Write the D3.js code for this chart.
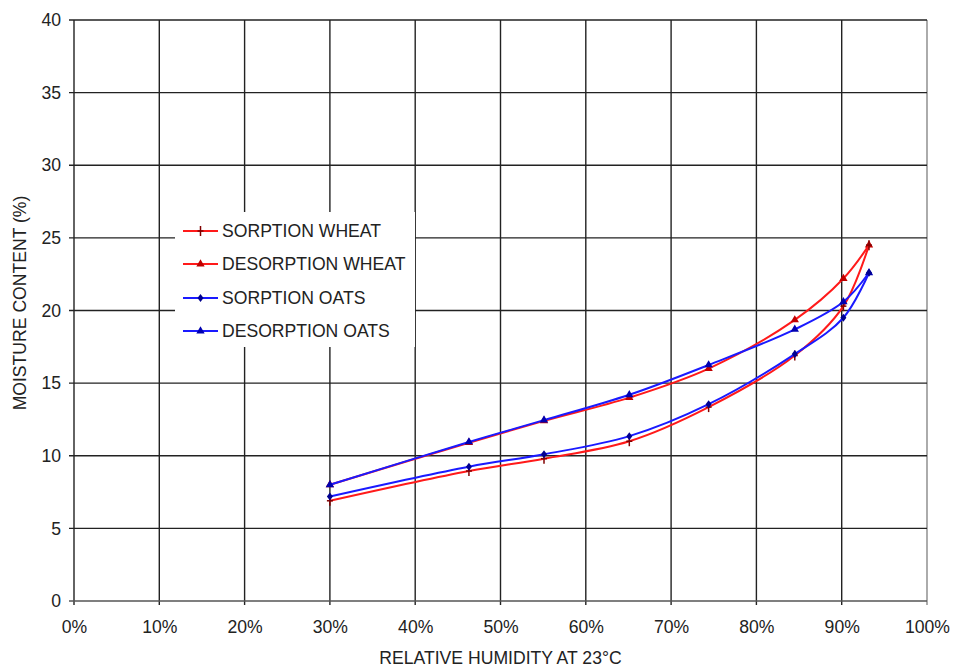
<!DOCTYPE html>
<html>
<head>
<meta charset="utf-8">
<script src="https://cdn.jsdelivr.net/npm/d3@7"></script>
<style>
  html, body { margin: 0; padding: 0; background: #fff; }
  svg { display: block; font-family: "Liberation Sans", Arial, sans-serif; }
</style>
</head>
<body>
<svg id="chart" width="956" height="669"></svg>
<script>
// ---- data ----
const rhSorptionWheat   = [0.30, 0.463, 0.551, 0.651, 0.744, 0.845, 0.902, 0.932];
const mcSorptionWheat   = [6.9, 8.95, 9.8, 11.0, 13.35, 16.9, 20.3, 24.5];
const rhDesorptionWheat = [0.30, 0.463, 0.551, 0.651, 0.744, 0.845, 0.902, 0.932];
const mcDesorptionWheat = [8.0, 10.9, 12.4, 14.0, 16.0, 19.35, 22.2, 24.5];
const rhSorptionOats    = [0.30, 0.463, 0.551, 0.651, 0.744, 0.845, 0.902, 0.932];
const mcSorptionOats    = [7.2, 9.25, 10.1, 11.35, 13.55, 17.0, 19.5, 22.6];
const rhDesorptionOats  = [0.30, 0.463, 0.551, 0.651, 0.744, 0.845, 0.902, 0.932];
const mcDesorptionOats  = [8.0, 10.95, 12.45, 14.2, 16.25, 18.7, 20.6, 22.6];
const seriesNames = ["SORPTION WHEAT", "DESORPTION WHEAT", "SORPTION OATS", "DESORPTION OATS"];
const xTicks = [0, 0.1, 0.2, 0.3, 0.4, 0.5, 0.6, 0.7, 0.8, 0.9, 1.0];
const yTicks = [0, 5, 10, 15, 20, 25, 30, 35, 40];
const xTitle = "RELATIVE HUMIDITY AT 23°C";
const yTitle = "MOISTURE CONTENT (%)";

// ---- layout ----
const svg = d3.select("#chart");
const L = 74, R = 927, T = 20, B = 601;
const FS = 17.6;
const x = d3.scaleLinear().domain([0, 1]).range([L, R]);
const y = d3.scaleLinear().domain([0, 40]).range([B, T]);

svg.append("rect").attr("width", 956).attr("height", 669).attr("fill", "#fff");

// grid
const grid = svg.append("g");
grid.selectAll("line.v").data(xTicks).join("line")
  .attr("x1", d => x(d)).attr("x2", d => x(d))
  .attr("y1", T).attr("y2", B + 4)
  .attr("stroke", d => d === 1 ? "#888" : "#222").attr("stroke-width", 1.4);
grid.selectAll("line.h").data(yTicks).join("line")
  .attr("x1", L - 5).attr("x2", R)
  .attr("y1", d => y(d)).attr("y2", d => y(d))
  .attr("stroke", d => d === 0 ? "#555" : "#222").attr("stroke-width", 1.4);

// axes labels via d3 axes (ticks hidden, gridlines drawn above)
const xAxis = svg.append("g").attr("transform", `translate(0,${B})`)
  .call(d3.axisBottom(x).tickValues(xTicks).tickFormat(d3.format(".0%")).tickSize(0).tickPadding(20));
xAxis.select(".domain").remove();
xAxis.selectAll("text").attr("font-size", FS).attr("fill", "#222")
  .attr("font-family", '"Liberation Sans", Arial, sans-serif');

const yAxis = svg.append("g").attr("transform", `translate(${L},0)`)
  .call(d3.axisLeft(y).tickValues(yTicks).tickSize(0).tickPadding(13));
yAxis.select(".domain").remove();
yAxis.selectAll("text").attr("font-size", FS).attr("fill", "#222")
  .attr("font-family", '"Liberation Sans", Arial, sans-serif');

// titles
svg.append("text").attr("x", (L + R) / 2).attr("y", 664)
  .attr("text-anchor", "middle").attr("font-size", FS).attr("fill", "#222").text(xTitle);
svg.append("text").attr("transform", "translate(26,303) rotate(-90)")
  .attr("text-anchor", "middle").attr("font-size", FS).attr("fill", "#222").text(yTitle);

// series
const series = [
  { name: seriesNames[1], rh: rhDesorptionWheat, mc: mcDesorptionWheat, color: "#ff1a1a", mcolor: "#c00000", marker: "triangle" },
  { name: seriesNames[0], rh: rhSorptionWheat,   mc: mcSorptionWheat,   color: "#ff1a1a", mcolor: "#800000", marker: "plus" },
  { name: seriesNames[3], rh: rhDesorptionOats,  mc: mcDesorptionOats,  color: "#1a1aff", mcolor: "#0000b0", marker: "triangle" },
  { name: seriesNames[2], rh: rhSorptionOats,    mc: mcSorptionOats,    color: "#1a1aff", mcolor: "#000090", marker: "diamond" }
];

const line = d3.line().x(d => x(d[0])).y(d => y(d[1])).curve(d3.curveCatmullRom.alpha(0.5));

function drawMarker(g, px, py, type, color) {
  if (type === "triangle") {
    g.append("path").attr("d", d3.symbol(d3.symbolTriangle, 30)()).attr("transform", `translate(${px},${py})`).attr("fill", color);
  } else if (type === "diamond") {
    g.append("path").attr("d", `M${px},${py-4}L${px+3},${py}L${px},${py+4}L${px-3},${py}Z`).attr("fill", color);
  } else {
    g.append("line").attr("x1", px).attr("x2", px).attr("y1", py - 5).attr("y2", py + 5).attr("stroke", color).attr("stroke-width", 1.5);
    g.append("line").attr("x1", px - 3).attr("x2", px + 3).attr("y1", py).attr("y2", py).attr("stroke", color).attr("stroke-width", 1.5);
  }
}

const sg = svg.append("g");
series.forEach(s => {
  const pts = s.rh.map((r, i) => [r, s.mc[i]]);
  sg.append("path").attr("d", line(pts)).attr("fill", "none").attr("stroke", s.color).attr("stroke-width", 2);
  pts.forEach(p => drawMarker(sg, x(p[0]), y(p[1]), s.marker, s.mcolor));
});

// legend
const lg = svg.append("g");
lg.append("rect").attr("x", 175).attr("y", 212).attr("width", 240).attr("height", 135).attr("fill", "#fff");
const legendOrder = [series[1], series[0], series[3], series[2]];
const legendY = [231, 264, 298, 331];
legendOrder.forEach((s, i) => {
  const ly = legendY[i];
  lg.append("line").attr("x1", 183).attr("x2", 218).attr("y1", ly).attr("y2", ly)
    .attr("stroke", s.color).attr("stroke-width", 2);
  drawMarker(lg, 200.5, ly, s.marker, s.mcolor);
  lg.append("text").attr("x", 222).attr("y", ly + 6).attr("font-size", FS).attr("fill", "#222").text(s.name);
});
</script>
</body>
</html>
